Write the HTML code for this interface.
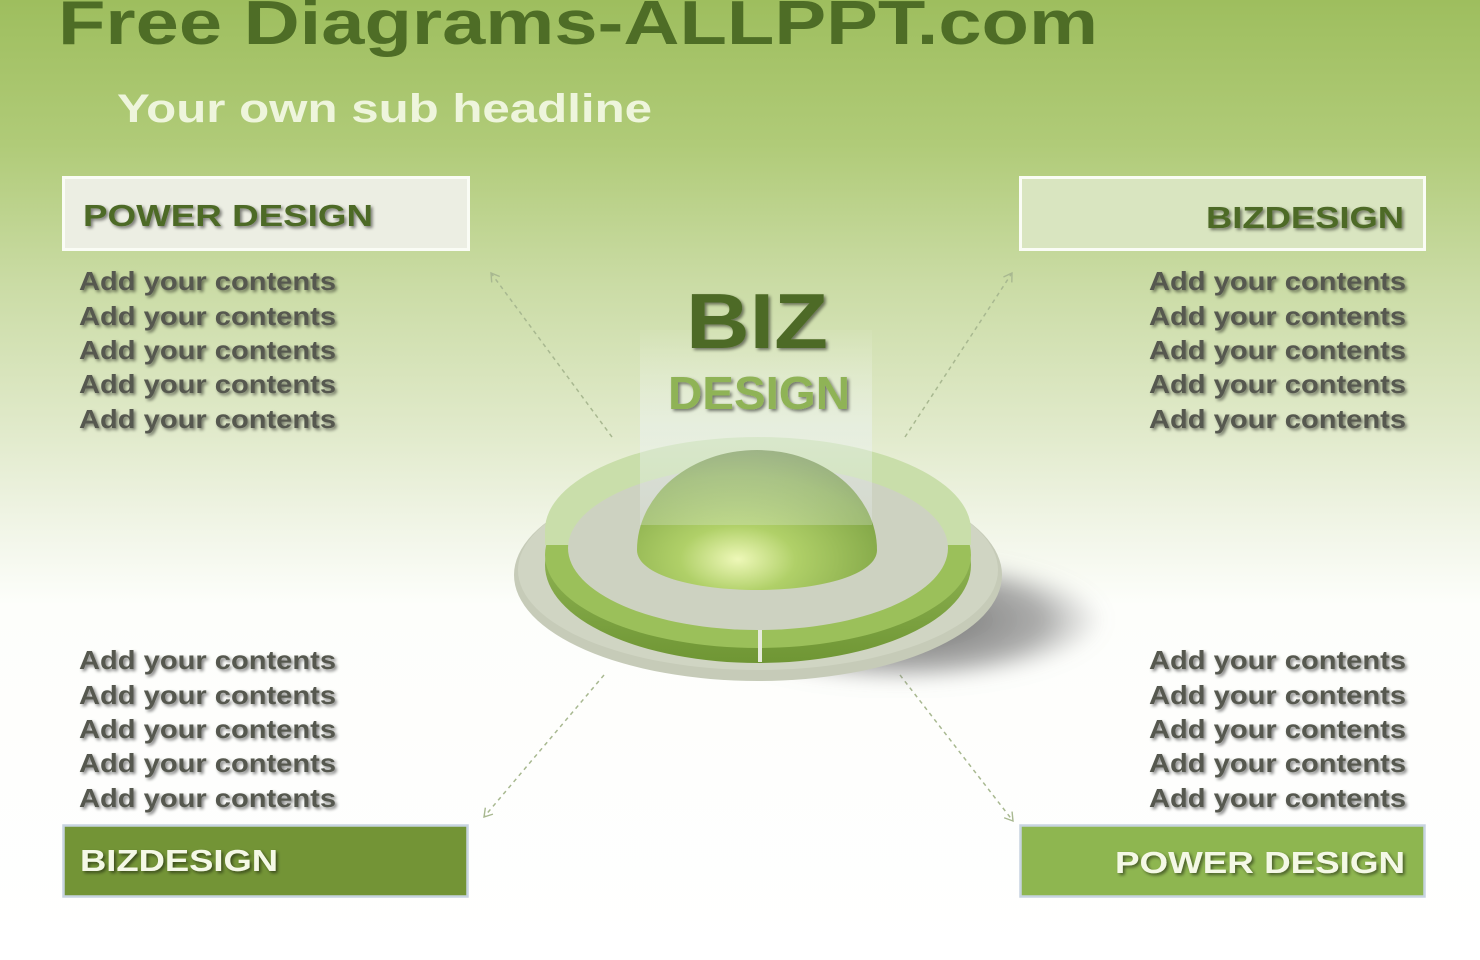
<!DOCTYPE html>
<html><head><meta charset="utf-8"><style>
html,body{margin:0;padding:0;width:1480px;height:960px;overflow:hidden;background:#fff}
svg{display:block}
text{font-family:"Liberation Sans",sans-serif;font-weight:bold}
</style></head><body>
<svg width="1480" height="960" viewBox="0 0 1480 960" xmlns="http://www.w3.org/2000/svg">
<defs>
<linearGradient id="bg" x1="0" y1="0" x2="0" y2="1">
<stop offset="0" stop-color="#9ebe5e"/>
<stop offset="0.15" stop-color="#b0cb78"/>
<stop offset="0.3" stop-color="#cbdca6"/>
<stop offset="0.45" stop-color="#e1eacb"/>
<stop offset="0.55" stop-color="#f1f5e7"/>
<stop offset="0.63" stop-color="#fdfefb"/>
<stop offset="1" stop-color="#ffffff"/>
</linearGradient>
<radialGradient id="dome" cx="0.42" cy="0.78" r="0.8">
<stop offset="0" stop-color="#eef8b8"/>
<stop offset="0.3" stop-color="#b0d068"/>
<stop offset="0.75" stop-color="#86aa4a"/>
<stop offset="1" stop-color="#66863a"/>
</radialGradient>
<radialGradient id="shadow" cx="0.5" cy="0.5" r="0.5">
<stop offset="0" stop-color="#555" stop-opacity="0.9"/>
<stop offset="0.7" stop-color="#777" stop-opacity="0.6"/>
<stop offset="1" stop-color="#999" stop-opacity="0"/>
</radialGradient>
<linearGradient id="ring" x1="0" y1="0" x2="0" y2="1">
<stop offset="0" stop-color="#a6c86a"/>
<stop offset="1" stop-color="#6f9634"/>
</linearGradient>
<linearGradient id="glass" x1="0" y1="0" x2="0" y2="1">
<stop offset="0" stop-color="#ffffff" stop-opacity="0.05"/>
<stop offset="0.5" stop-color="#eef4f8" stop-opacity="0.45"/>
<stop offset="1" stop-color="#e8eff2" stop-opacity="0.25"/>
</linearGradient>
<filter id="ts" x="-5%" y="-20%" width="110%" height="140%"><feGaussianBlur in="SourceAlpha" stdDeviation="1.5"/><feOffset dx="2" dy="2"/><feComponentTransfer><feFuncA type="linear" slope="0.5"/></feComponentTransfer><feMerge><feMergeNode/><feMergeNode in="SourceGraphic"/></feMerge></filter>
<filter id="bl"><feGaussianBlur stdDeviation="8"/></filter>
<marker id="ah" markerWidth="12" markerHeight="12" refX="10" refY="6" orient="auto" markerUnits="userSpaceOnUse"><path d="M2,1 L10,6 L2,11" fill="none" stroke="#a8b890" stroke-width="1.4"/></marker>
</defs>
<rect width="1480" height="960" fill="url(#bg)"/>

<text x="58" y="44" font-size="62" fill="#4e6d26" textLength="1040" lengthAdjust="spacingAndGlyphs">Free Diagrams-ALLPPT.com</text>
<text x="117" y="122" font-size="40" fill="#eef5dc" textLength="535" lengthAdjust="spacingAndGlyphs">Your own sub headline</text>

<rect x="63.5" y="177.5" width="405" height="72" fill="#eceee3" stroke="#fafcf5" stroke-width="3"/>
<text x="83" y="226" font-size="31" fill="#4e6a28" filter="url(#ts)" textLength="290" lengthAdjust="spacingAndGlyphs">POWER DESIGN</text>
<rect x="1020.5" y="177.5" width="404" height="72" fill="#d9e5c0" stroke="#fafcf5" stroke-width="3"/>
<text x="1404" y="228" font-size="31" fill="#4e6a28" text-anchor="end" filter="url(#ts)" textLength="198" lengthAdjust="spacingAndGlyphs">BIZDESIGN</text>
<rect x="63.5" y="825.5" width="404" height="71" fill="#739436" stroke="#c7d4e0" stroke-width="2.5"/>
<text x="80" y="871" font-size="31" fill="#f4f8e6" filter="url(#ts)" textLength="198" lengthAdjust="spacingAndGlyphs">BIZDESIGN</text>
<rect x="1020.5" y="825.5" width="404" height="71" fill="#8eb650" stroke="#c7d4e0" stroke-width="2.5"/>
<text x="1405" y="873" font-size="31" fill="#f4f8e6" text-anchor="end" filter="url(#ts)" textLength="290" lengthAdjust="spacingAndGlyphs">POWER DESIGN</text>

<g font-size="26" fill="#56594f" filter="url(#ts)">
<text x="79" y="290" textLength="257" lengthAdjust="spacingAndGlyphs">Add your contents</text>
<text x="79" y="325" textLength="257" lengthAdjust="spacingAndGlyphs">Add your contents</text>
<text x="79" y="359" textLength="257" lengthAdjust="spacingAndGlyphs">Add your contents</text>
<text x="79" y="393" textLength="257" lengthAdjust="spacingAndGlyphs">Add your contents</text>
<text x="79" y="428" textLength="257" lengthAdjust="spacingAndGlyphs">Add your contents</text>
<text x="1149" y="290" textLength="257" lengthAdjust="spacingAndGlyphs">Add your contents</text>
<text x="1149" y="325" textLength="257" lengthAdjust="spacingAndGlyphs">Add your contents</text>
<text x="1149" y="359" textLength="257" lengthAdjust="spacingAndGlyphs">Add your contents</text>
<text x="1149" y="393" textLength="257" lengthAdjust="spacingAndGlyphs">Add your contents</text>
<text x="1149" y="428" textLength="257" lengthAdjust="spacingAndGlyphs">Add your contents</text>
<text x="79" y="669" textLength="257" lengthAdjust="spacingAndGlyphs">Add your contents</text>
<text x="79" y="704" textLength="257" lengthAdjust="spacingAndGlyphs">Add your contents</text>
<text x="79" y="738" textLength="257" lengthAdjust="spacingAndGlyphs">Add your contents</text>
<text x="79" y="772" textLength="257" lengthAdjust="spacingAndGlyphs">Add your contents</text>
<text x="79" y="807" textLength="257" lengthAdjust="spacingAndGlyphs">Add your contents</text>
<text x="1149" y="669" textLength="257" lengthAdjust="spacingAndGlyphs">Add your contents</text>
<text x="1149" y="704" textLength="257" lengthAdjust="spacingAndGlyphs">Add your contents</text>
<text x="1149" y="738" textLength="257" lengthAdjust="spacingAndGlyphs">Add your contents</text>
<text x="1149" y="772" textLength="257" lengthAdjust="spacingAndGlyphs">Add your contents</text>
<text x="1149" y="807" textLength="257" lengthAdjust="spacingAndGlyphs">Add your contents</text>
</g>

<g stroke="#a8b890" stroke-width="1.5" stroke-dasharray="4,4" fill="none">
<line x1="612" y1="437" x2="491" y2="273" marker-end="url(#ah)"/>
<line x1="905" y1="437" x2="1012" y2="273" marker-end="url(#ah)"/>
<line x1="604" y1="675" x2="484" y2="817" marker-end="url(#ah)"/>
<line x1="900" y1="675" x2="1013" y2="821" marker-end="url(#ah)"/>
</g>

<ellipse cx="900" cy="620" rx="205" ry="65" fill="url(#shadow)" filter="url(#bl)"/>
<ellipse cx="758" cy="575" rx="244" ry="106" fill="#c6cbb8"/>
<ellipse cx="758" cy="570" rx="240" ry="100" fill="#d0d5c3"/>
<ellipse cx="758" cy="565" rx="213" ry="98" fill="url(#ring)"/>
<ellipse cx="758" cy="555" rx="213" ry="93" fill="#9bc05a"/>
<path d="M545,530 A213,93 0 0 1 971,530 L971,545 L545,545 Z" fill="#c9deaa"/>
<ellipse cx="758" cy="548" rx="190" ry="82" fill="#cdd2c1"/>
<line x1="760" y1="630" x2="760" y2="662" stroke="#e6eadc" stroke-width="4"/>
<path d="M637,550 A120,100 0 0 1 877,550 C877,575 820,590 757,590 C694,590 637,575 637,550 Z" fill="url(#dome)"/>
<rect x="640" y="330" width="232" height="195" fill="url(#glass)"/>
<text x="757" y="348" font-size="78" fill="#4e6a26" text-anchor="middle" filter="url(#ts)" textLength="142" lengthAdjust="spacingAndGlyphs">BIZ</text>
<text x="759" y="409" font-size="46" fill="#8fb356" text-anchor="middle" filter="url(#ts)" textLength="182" lengthAdjust="spacingAndGlyphs">DESIGN</text>
</svg>
</body></html>
